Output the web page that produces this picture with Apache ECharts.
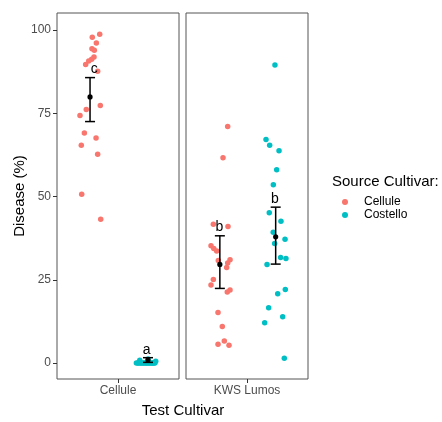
<!DOCTYPE html>
<html>
<head>
<meta charset="utf-8">
<script src="https://cdn.jsdelivr.net/npm/echarts@6/dist/echarts.min.js"></script>
<style>
  html, body { margin: 0; padding: 0; background: #fff; }
  #chart { width: 442px; height: 422px; }
</style>
</head>
<body>
<div id="chart"></div>
<script>
// 数据
const testCultivars = ['Cellule', 'KWS Lumos'];
const sourceCultivars = ['Cellule', 'Costello'];
const yTicks = [0, 25, 50, 75, 100];

// panel "Cellule"
const cellCellY = [98.7, 97.8, 96.1, 94.4, 93.9, 91.9, 91.2, 90.7, 89.6, 87.6, 77.3, 76.1, 74.3, 69.1, 67.6, 65.4, 62.7, 50.7, 43.2];
const cellCellX = [0.820, 0.747, 0.787, 0.744, 0.767, 0.764, 0.741, 0.712, 0.682, 0.800, 0.826, 0.688, 0.626, 0.669, 0.784, 0.639, 0.800, 0.643, 0.830];
const cellCostY = [0, 0, 0, 0, 0, 0, 0, 0, 0, 0, 0, 0, 0, 0, 0, 0, 0, 0.5, 0.8, 1.2];
const cellCostX = [1.181, 1.196, 1.204, 1.222, 1.229, 1.247, 1.252, 1.268, 1.279, 1.285, 1.301, 1.309, 1.322, 1.334, 1.341, 1.352, 1.363, 1.371, 1.214, 1.296];

// panel "KWS Lumos"
const kwsCellY = [71.0, 61.6, 41.7, 41.0, 35.2, 34.4, 33.6, 31.0, 30.8, 30.0, 28.7, 25.1, 23.4, 21.9, 21.3, 15.2, 11.0, 6.6, 5.6, 5.3];
const kwsCellX = [0.810, 0.764, 0.669, 0.813, 0.646, 0.673, 0.702, 0.833, 0.718, 0.810, 0.800, 0.669, 0.646, 0.833, 0.806, 0.715, 0.757, 0.777, 0.715, 0.823];
const kwsCostY = [89.5, 67.1, 65.4, 63.7, 58.0, 53.5, 45.1, 42.6, 39.3, 37.2, 35.9, 31.7, 31.4, 29.6, 22.1, 20.8, 16.6, 13.9, 12.1, 1.4];
const kwsCostX = [1.275, 1.187, 1.223, 1.315, 1.292, 1.259, 1.219, 1.334, 1.258, 1.374, 1.272, 1.331, 1.383, 1.197, 1.377, 1.302, 1.213, 1.351, 1.174, 1.367];

// group summaries [panel][source]
const groupX = [[0.725, 1.295], [0.733, 1.282]];
const groupMean = [[79.9, 0.9], [29.6, 37.9]];
const groupLow = [[72.5, 0.2], [22.4, 29.7]];
const groupHigh = [[85.7, 1.6], [38.2, 46.8]];
const letters = [['c', 'a'], ['b', 'b']];
const letterX = [[0.767, 1.282], [0.728, 1.275]];
const letterY = [[88.2, 4.0], [40.9, 49.2]];

const points = [
  [[cellCellX, cellCellY], [cellCostX, cellCostY]],
  [[kwsCellX, kwsCellY], [kwsCostX, kwsCostY]]
];
const colors = ['#F8766D', '#00BFC4'];
const FONT = 'Liberation Sans, Arial, sans-serif';

const chart = echarts.init(document.getElementById('chart'));

const grids = [];
const xAxes = [];
const yAxes = [];
const series = [];

testCultivars.forEach((tc, p) => {
  grids.push({
    left: p === 0 ? 57 : 186,
    top: 13,
    width: 122,
    height: 366,
    show: true,
    borderColor: '#555',
    borderWidth: 1,
    containLabel: false
  });
  // category axis, only for the label / tick
  xAxes.push({
    type: 'category',
    gridIndex: p,
    data: [tc],
    position: 'bottom',
    boundaryGap: true,
    axisLine: { show: false, onZero: false },
    axisTick: { show: true, alignWithLabel: true, length: 4, lineStyle: { color: '#333' } },
    axisLabel: { color: '#4D4D4D', fontSize: 12, fontFamily: FONT, margin: 6 },
    splitLine: { show: false }
  });
  // value axis for the jittered points
  xAxes.push({
    type: 'value',
    gridIndex: p,
    position: 'top',
    min: 0.4,
    max: 1.6,
    show: false
  });
  yAxes.push({
    type: 'value',
    gridIndex: p,
    min: -4.8,
    max: 105.1,
    axisLine: { show: false, onZero: false },
    splitLine: { show: false },
    axisTick: { show: p === 0, length: 4, customValues: yTicks, lineStyle: { color: '#333' } },
    axisLabel: { show: p === 0, customValues: yTicks, color: '#4D4D4D', fontSize: 12, fontFamily: FONT, margin: 6 },
    name: p === 0 ? 'Disease (%)' : '',
    nameLocation: 'middle',
    nameRotate: 90,
    nameGap: 30,
    nameTextStyle: { color: '#000', fontSize: 15, fontFamily: FONT }
  });

  sourceCultivars.forEach((sc, s) => {
    const [xs, ys] = points[p][s];
    series.push({
      type: 'scatter',
      name: sc,
      xAxisIndex: p * 2 + 1,
      yAxisIndex: p,
      symbol: 'circle',
      symbolSize: 5.5,
      itemStyle: { color: colors[s], opacity: 1 },
      silent: true,
      data: ys.map((v, i) => [xs[i], v])
    });
  });

  // error bars + mean
  series.push({
    type: 'custom',
    xAxisIndex: p * 2 + 1,
    yAxisIndex: p,
    silent: true,
    z: 5,
    data: sourceCultivars.map((sc, s) => [groupX[p][s], groupMean[p][s], groupLow[p][s], groupHigh[p][s]]),
    renderItem(params, api) {
      const x = api.value(0);
      const mid = api.coord([x, api.value(1)]);
      const lo = api.coord([x, api.value(2)]);
      const hi = api.coord([x, api.value(3)]);
      const w = 5;
      const st = { stroke: '#000', lineWidth: 1.5 };
      return {
        type: 'group',
        children: [
          { type: 'line', shape: { x1: hi[0], y1: hi[1], x2: lo[0], y2: lo[1] }, style: st },
          { type: 'line', shape: { x1: hi[0] - w, y1: hi[1], x2: hi[0] + w, y2: hi[1] }, style: st },
          { type: 'line', shape: { x1: lo[0] - w, y1: lo[1], x2: lo[0] + w, y2: lo[1] }, style: st },
          { type: 'circle', shape: { cx: mid[0], cy: mid[1], r: 2.6 }, style: { fill: '#000' } }
        ]
      };
    }
  });

  // letters
  series.push({
    type: 'custom',
    xAxisIndex: p * 2 + 1,
    yAxisIndex: p,
    silent: true,
    z: 6,
    data: sourceCultivars.map((sc, s) => [letterX[p][s], letterY[p][s]]),
    renderItem(params, api) {
      const pt = api.coord([api.value(0), api.value(1)]);
      return {
        type: 'text',
        x: pt[0],
        y: pt[1],
        style: {
          text: letters[p][params.dataIndex],
          fill: '#000',
          font: '14px ' + FONT,
          align: 'center',
          verticalAlign: 'middle',
          textAlign: 'center',
          textVerticalAlign: 'middle'
        }
      };
    }
  });
});

const option = {
  animation: false,
  backgroundColor: '#fff',
  grid: grids,
  xAxis: xAxes,
  yAxis: yAxes,
  legend: {
    data: sourceCultivars,
    orient: 'vertical',
    left: 337,
    top: 191,
    icon: 'circle',
    itemWidth: 28,
    itemHeight: 6,
    itemGap: 1,
    selectedMode: false,
    textStyle: { color: '#000', fontSize: 12, fontFamily: FONT }
  },
  graphic: [
    {
      type: 'text',
      left: 332,
      top: 174,
      style: { text: 'Source Cultivar:', fill: '#000', font: '15px ' + FONT }
    },
    {
      type: 'text',
      x: 183,
      y: 411,
      style: { text: 'Test Cultivar', fill: '#000', font: '15px ' + FONT, align: 'center', verticalAlign: 'middle' }
    }
  ],
  series: series
};

chart.setOption(option);
</script>
</body>
</html>
